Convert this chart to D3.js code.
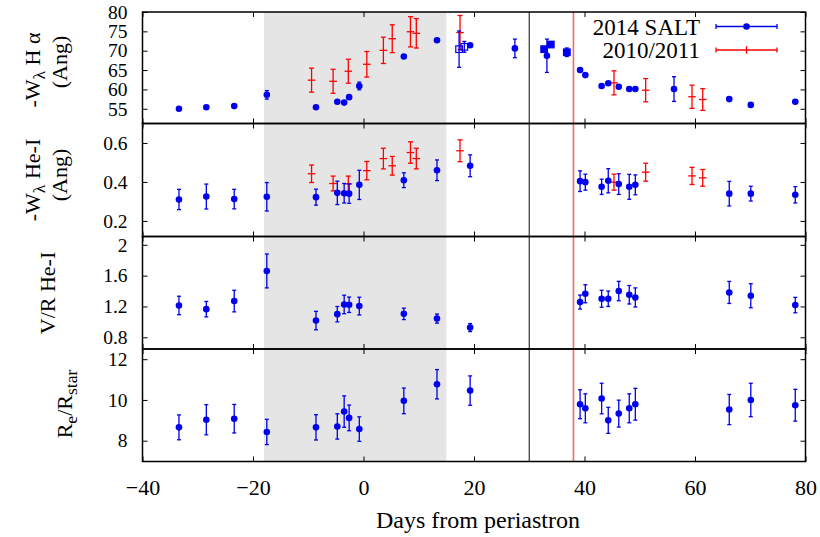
<!DOCTYPE html>
<html>
<head>
<meta charset="utf-8">
<script src="https://cdnjs.cloudflare.com/ajax/libs/d3/7.8.5/d3.min.js"></script>
<style>
  body { margin: 0; background: #fff; }
  svg text { font-family: "Liberation Serif", "DejaVu Serif", "Times New Roman", Times, serif; }
</style>
</head>
<body>
<script>
// days from periastron, 2014 SALT (shared by all four panels)
var days = [-33.4, -28.45, -23.4, -17.5, -8.6, -4.74, -3.5, -2.6, -0.76, 7.3, 13.3, 19.3,
            39.2, 40.15, 43.1, 44.3, 46.2, 48.1, 49.2, 66.2, 70.1, 78.15];

var hAlpha    = [55.0, 55.4, 55.7, 58.6, 55.4, 56.8, 56.6, 58.0, 60.9, 68.5, 72.7, 71.4,
                 65.0, 63.7, 60.9, 61.6, 60.7, 60.1, 60.1, 57.5, 56.0, 56.8];
var hAlphaErr = [0.4, 0.4, 0.4, 1.1, 0.4, 0.4, 0.4, 0.4, 1.0, 0.4, 0.4, 0.4,
                 0.4, 0.4, 0.4, 0.4, 0.4, 0.4, 0.4, 0.5, 0.4, 0.4];

// extra H alpha points (only in the top panel)
var hAlphaXDays = [27.4, 33.2, 56.2];
var hAlphaX     = [70.6, 68.7, 60.1];
var hAlphaXErr  = [2.4, 4.3, 3.2];
var sqDays  = [32.7, 33.9, 36.8];
var sqVal   = [70.4, 71.6, 69.6];
var sqErr   = [0.5, 0.4, 1.1];
var openDays = [17.3, 18.25];
var openVal  = [70.4, 71.0];
var openErr  = [4.7, 1.4];

var heI    = [0.31, 0.325, 0.312, 0.324, 0.322, 0.344, 0.342, 0.34, 0.385, 0.409, 0.46, 0.483,
              0.404, 0.399, 0.375, 0.406, 0.389, 0.375, 0.385, 0.34, 0.34, 0.334];
var heIErr = [0.052, 0.064, 0.05, 0.073, 0.041, 0.06, 0.05, 0.05, 0.075, 0.038, 0.053, 0.056,
              0.053, 0.041, 0.039, 0.062, 0.053, 0.064, 0.051, 0.063, 0.038, 0.042];

var vr    = [1.213, 1.165, 1.27, 1.661, 1.017, 1.10, 1.226, 1.222, 1.205, 1.104, 1.043, 0.926,
             1.257, 1.365, 1.30, 1.30, 1.40, 1.352, 1.317, 1.382, 1.339, 1.218];
var vrErr = [0.12, 0.10, 0.14, 0.22, 0.12, 0.10, 0.12, 0.10, 0.115, 0.074, 0.059, 0.052,
             0.091, 0.117, 0.11, 0.10, 0.126, 0.12, 0.124, 0.143, 0.156, 0.10];

var rad    = [8.655, 9.03, 9.08, 8.43, 8.655, 8.70, 9.43, 9.12, 8.57, 9.955, 10.77, 10.46,
              9.79, 9.59, 10.07, 9.0, 9.33, 9.59, 9.79, 9.53, 10.0, 9.74];
var radErr = [0.61, 0.74, 0.70, 0.62, 0.62, 0.62, 0.77, 0.63, 0.60, 0.63, 0.72, 0.72,
              0.71, 0.71, 0.75, 0.64, 0.66, 0.71, 0.78, 0.74, 0.82, 0.78];

// 2010/2011
var oldDays   = [-9.4, -5.5, -2.75, 0.6, 3.6, 5.2, 8.5, 9.56, 17.47, 45.34, 51.07, 59.46, 61.4];
var oldHa     = [62.4, 62.1, 64.7, 66.5, 70.1, 73.1, 74.9, 74.5, 74.7, 61.7, 59.8, 58.1, 57.4];
var oldHaErr  = [3.1, 3.1, 3.1, 3.3, 3.4, 3.6, 3.9, 3.8, 4.4, 3.1, 3.0, 3.0, 2.8];
var oldHe     = [0.442, 0.392, 0.39, 0.458, 0.52, 0.483, 0.551, 0.52, 0.56, 0.399, 0.45, 0.431, 0.421];
var oldHeErr  = [0.045, 0.038, 0.04, 0.047, 0.053, 0.048, 0.055, 0.053, 0.056, 0.041, 0.046, 0.044, 0.043];

var xTicks = [-40, -20, 0, 20, 40, 60, 80];
var band = [-18, 15];
var blackLine = 30, redLine = 38;

var blue = "#0000ee", red = "#ff0000";
var serif = "'Liberation Serif', 'DejaVu Serif', 'Times New Roman', Times, serif";
var W = 820, H = 537;
var left = 142.5, right = 805.5;

var svg = d3.select("body").append("svg")
    .attr("width", W).attr("height", H)
    .style("font-family", serif);

var x = d3.scaleLinear().domain([-40, 80]).range([left, right]);

var panels = [
  { top: 12,    bottom: 123.5, domain: [51.2, 80],   ticks: [55, 60, 65, 70, 75, 80], fmt: d3.format("d") },
  { top: 123.5, bottom: 236.5, domain: [0.12, 0.70], ticks: [0.2, 0.4, 0.6],          fmt: d3.format(".1f") },
  { top: 236.5, bottom: 349,   domain: [0.648, 2.108], ticks: [0.8, 1.2, 1.6, 2],     fmt: function(d) { return d === 2 ? "2" : d3.format(".1f")(d); } },
  { top: 349,   bottom: 461.5, domain: [6.98, 12.5], ticks: [8, 10, 12],              fmt: d3.format("d") }
];
panels.forEach(function(p) {
  p.y = d3.scaleLinear().domain(p.domain).range([p.bottom, p.top]);
});

// background band and vertical markers
panels.forEach(function(p, i) {
  svg.append("rect")
    .attr("x", x(band[0])).attr("y", p.top)
    .attr("width", x(band[1]) - x(band[0])).attr("height", p.bottom - p.top)
    .attr("fill", "#e5e5e5");
});
svg.append("line")
  .attr("x1", x(blackLine)).attr("x2", x(blackLine))
  .attr("y1", panels[0].top).attr("y2", panels[3].bottom)
  .attr("stroke", "#333").attr("stroke-width", 1.2);
svg.append("line")
  .attr("x1", x(redLine)).attr("x2", x(redLine))
  .attr("y1", panels[0].top).attr("y2", panels[3].bottom)
  .attr("stroke", "#f46a6a").attr("stroke-width", 1.6);

// axes
panels.forEach(function(p, i) {
  var last = i === panels.length - 1;
  svg.append("g")
    .attr("transform", "translate(0," + p.bottom + ")")
    .call(d3.axisBottom(x).tickValues(xTicks).tickSize(-5).tickPadding(18)
      .tickFormat(last ? d3.format("d") : ""))
    .call(styleAxis, 22);
  svg.append("g")
    .attr("transform", "translate(0," + p.top + ")")
    .call(d3.axisTop(x).tickValues(xTicks).tickSize(-5).tickFormat(""))
    .call(styleAxis, 22);
  svg.append("g")
    .attr("transform", "translate(" + left + ",0)")
    .call(d3.axisLeft(p.y).tickValues(p.ticks).tickSize(-5).tickPadding(15).tickFormat(p.fmt))
    .call(styleAxis, 19.5);
  svg.append("g")
    .attr("transform", "translate(" + right + ",0)")
    .call(d3.axisRight(p.y).tickValues(p.ticks).tickSize(-5).tickFormat(""))
    .call(styleAxis, 19.5);
  svg.append("rect")
    .attr("x", left).attr("y", p.top)
    .attr("width", right - left).attr("height", p.bottom - p.top)
    .attr("fill", "none").attr("stroke", "#000").attr("stroke-width", 1.5);
});

function styleAxis(g, size) {
  g.attr("font-family", serif);
  g.select(".domain").remove();
  g.selectAll(".tick line").attr("stroke", "#000").attr("stroke-width", 1);
  g.selectAll(".tick text").attr("font-size", size).attr("fill", "#000");
}

// drawing helpers
function zipPts(xs, ys, es) {
  return xs.map(function(d, i) { return { x: d, y: ys[i], e: es[i] }; });
}

function errBars(p, pts, color, cap) {
  var g = svg.append("g").attr("stroke", color).attr("stroke-width", 1.3).attr("fill", "none");
  pts.forEach(function(d) {
    var cx = x(d.x), y0 = p.y(d.y - d.e), y1 = p.y(d.y + d.e);
    g.append("line").attr("x1", cx).attr("x2", cx).attr("y1", y0).attr("y2", y1);
    g.append("line").attr("x1", cx - cap).attr("x2", cx + cap).attr("y1", y0).attr("y2", y0);
    g.append("line").attr("x1", cx - cap).attr("x2", cx + cap).attr("y1", y1).attr("y2", y1);
  });
  return g;
}

function circles(p, pts) {
  errBars(p, pts, blue, 2);
  svg.append("g").selectAll("circle").data(pts).enter().append("circle")
    .attr("cx", function(d) { return x(d.x); })
    .attr("cy", function(d) { return p.y(d.y); })
    .attr("r", 3.3).attr("fill", blue);
}

function squares(p, pts, open) {
  errBars(p, pts, blue, 2);
  svg.append("g").selectAll("rect").data(pts).enter().append("rect")
    .attr("x", function(d) { return x(d.x) - 3.3; })
    .attr("y", function(d) { return p.y(d.y) - 3.3; })
    .attr("width", 6.6).attr("height", 6.6)
    .attr("fill", open ? "none" : blue)
    .attr("stroke", blue).attr("stroke-width", 1.2);
}

function crosses(p, pts) {
  var g = errBars(p, pts, red, 2.5);
  pts.forEach(function(d) {
    var cx = x(d.x), cy = p.y(d.y);
    g.append("line").attr("x1", cx - 3.8).attr("x2", cx + 3.8).attr("y1", cy).attr("y2", cy);
  });
}

// panel 1
crosses(panels[0], zipPts(oldDays, oldHa, oldHaErr));
circles(panels[0], zipPts(days, hAlpha, hAlphaErr));
circles(panels[0], zipPts(hAlphaXDays, hAlphaX, hAlphaXErr));
squares(panels[0], zipPts(sqDays, sqVal, sqErr), false);
squares(panels[0], zipPts(openDays, openVal, openErr), true);
// panel 2
crosses(panels[1], zipPts(oldDays, oldHe, oldHeErr));
circles(panels[1], zipPts(days, heI, heIErr));
// panel 3
circles(panels[2], zipPts(days, vr, vrErr));
// panel 4
circles(panels[3], zipPts(days, rad, radErr));

// y labels
function yLabel(cx, cy, parts, size) {
  var t = svg.append("text")
    .attr("transform", "translate(" + cx + "," + cy + ") rotate(-90)")
    .attr("text-anchor", "middle").attr("font-size", size).attr("fill", "#000");
  parts.forEach(function(s) {
    var ts = t.append("tspan").text(s[0]);
    if (s[1]) ts.attr("dy", 5).attr("font-size", size * 0.8);
    else if (s[2]) ts.attr("dy", -5);
  });
}
yLabel(40, 70, [["-W"], ["\u03bb", true], [" H \u03b1", false, true]], 22);
yLabel(67, 62, [["(Ang)"]], 22);
yLabel(40, 180, [["-W"], ["\u03bb", true], [" He-I", false, true]], 22);
yLabel(67, 175, [["(Ang)"]], 22);
yLabel(55, 293, [["V/R He-I"]], 22);
yLabel(72, 404, [["R"], ["e", true], ["/R", false, true], ["star", true]], 22);

svg.append("text")
  .attr("x", (left + right) / 2 + 4).attr("y", 528)
  .attr("text-anchor", "middle").attr("font-size", 24)
  .text("Days from periastron");

// legend
var legend = [
  { label: "2014 SALT", color: blue, y: 26.5 },
  { label: "2010/2011", color: red, y: 50 }
];
legend.forEach(function(l, i) {
  var g = svg.append("g");
  g.append("text").attr("x", 700).attr("y", l.y).attr("dy", "0.35em")
    .attr("text-anchor", "end").attr("font-size", 23).text(l.label);
  g.append("line").attr("x1", 716).attr("x2", 777).attr("y1", l.y).attr("y2", l.y)
    .attr("stroke", l.color).attr("stroke-width", 1.3);
  [716, 777].forEach(function(px) {
    g.append("line").attr("x1", px).attr("x2", px).attr("y1", l.y - 2.5).attr("y2", l.y + 2.5)
      .attr("stroke", l.color).attr("stroke-width", 1.3);
  });
  if (i === 0) {
    g.append("circle").attr("cx", 746.5).attr("cy", l.y).attr("r", 3.3).attr("fill", l.color);
  } else {
    g.append("line").attr("x1", 746.5).attr("x2", 746.5).attr("y1", l.y - 3.8).attr("y2", l.y + 3.8)
      .attr("stroke", l.color).attr("stroke-width", 1.3);
  }
});
</script>
</body>
</html>
